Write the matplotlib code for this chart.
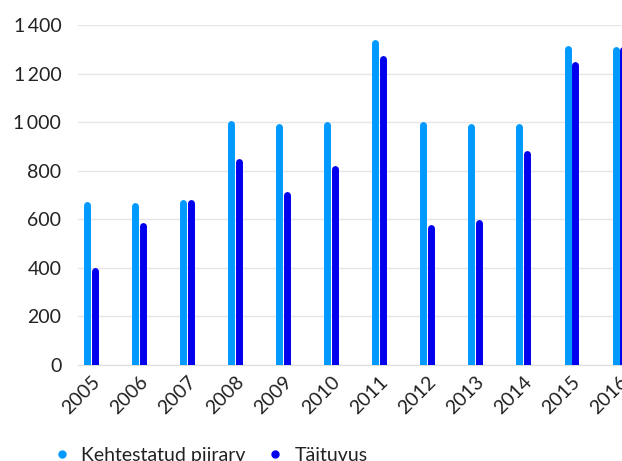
import numpy as np
import matplotlib.pyplot as plt
from matplotlib.lines import Line2D

# data
years = ["2005", "2006", "2007", "2008", "2009", "2010",
         "2011", "2012", "2013", "2014", "2015", "2016"]
kehtestatud = [671, 667, 680, 1008, 996, 1004, 1338, 1004, 996, 992, 1317, 1313]
taituvus = [403, 585, 680, 848, 716, 823, 1272, 580, 597, 881, 1251, 1313]

c_light = "#0099ff"
c_dark = "#0000ee"

plt.rcParams["font.family"] = ["Lato", "DejaVu Sans"]

fig = plt.figure(figsize=(6.22, 4.61), dpi=100)
ax = fig.add_axes([78 / 622, 1 - 365 / 461, (622 - 78) / 622, (365 - 25) / 461])

x = np.arange(len(years))
off = 0.075
lw = 5.0
cap = 14  # round cap sticks out above the value, take it off
for i in range(len(years)):
    ax.plot([x[i] - off, x[i] - off], [-50, kehtestatud[i] - cap], color=c_light,
            lw=lw, solid_capstyle="round", zorder=3)
    ax.plot([x[i] + off, x[i] + off], [-50, taituvus[i] - cap], color=c_dark,
            lw=lw, solid_capstyle="round", zorder=3)

ax.set_ylim(0, 1400)
ax.set_xlim(-0.27, 11.06)
ax.set_yticks(range(0, 1401, 200))
ax.set_yticklabels([f"{v:,}".replace(",", "\u2009") if v >= 1000 else str(v)
                    for v in range(0, 1401, 200)], fontsize=14, color="#222222")
ax.set_xticks(x)
ax.set_xticklabels(years, rotation=45, ha="right", rotation_mode="anchor",
                   fontsize=14, color="#222222")
ax.tick_params(length=0)
ax.tick_params(axis="y", pad=12)
ax.tick_params(axis="x", pad=6)
ax.grid(axis="y", color="#e6e6e6", lw=1)
ax.set_axisbelow(True)
for s in ["top", "right", "left"]:
    ax.spines[s].set_visible(False)
ax.spines["bottom"].set_color("#dddddd")

handles = [Line2D([], [], marker="o", ls="", color=c_light, markersize=5),
           Line2D([], [], marker="o", ls="", color=c_dark, markersize=5)]
fig.legend(handles, ["Kehtestatud piirarv", "Täituvus"], loc="center left",
           bbox_to_anchor=(52 / 622, 1 - 455 / 461), ncol=2, frameon=False,
           fontsize=14, handletextpad=0.5, columnspacing=1.0,
           handlelength=1.0, borderpad=0, borderaxespad=0,
           labelcolor="#222222")

plt.savefig("out.png", dpi=100)
